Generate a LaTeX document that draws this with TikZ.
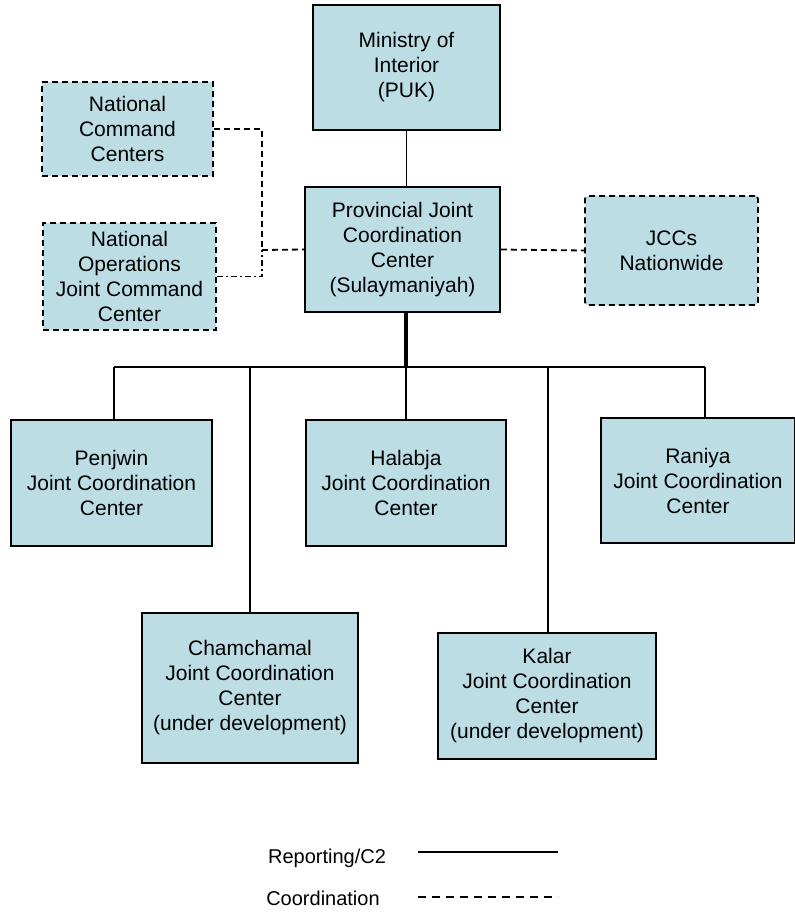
\documentclass[tikz,border=0pt]{standalone}
\usepackage{fontspec}
\setmainfont{Liberation Sans}
\begin{document}
\begin{tikzpicture}[x=1pt,y=-1pt,
  box/.style={draw=black, line width=1.8pt, fill=boxfill, align=center, inner sep=0pt,
    font=\fontsize{21}{25}\selectfont},
  dbox/.style={box, dash pattern=on 6pt off 4pt},
  rep/.style={line width=1.8pt},
  coord/.style={line width=1.8pt, dash pattern=on 6pt off 4pt},
  lbl/.style={font=\fontsize{20}{25}\selectfont, inner sep=0pt}]
\definecolor{boxfill}{RGB}{187,221,227}
\useasboundingbox (0,0) rectangle (795,913);
\node[box, minimum width=187pt, minimum height=125pt] (moi) at (406.5,67.5) {Ministry of\\Interior\\(PUK)};
\node[dbox, minimum width=171pt, minimum height=94pt] (ncc) at (127.5,129) {National\\Command\\Centers};
\node[dbox, minimum width=173pt, minimum height=107pt] (nojcc) at (129.5,276.5) {National\\Operations\\Joint Command\\Center};
\node[box, minimum width=195pt, minimum height=125pt] (pjcc) at (402.5,249.5) {Provincial Joint\\Coordination\\Center\\(Sulaymaniyah)};
\node[dbox, rounded corners=3pt, minimum width=173pt, minimum height=109pt] (jccs) at (671.5,250.5) {JCCs\\Nationwide};
\node[box, minimum width=201pt, minimum height=126pt] (pen) at (111.5,483) {Penjwin\\Joint Coordination\\Center};
\node[box, minimum width=200pt, minimum height=126pt] (hal) at (406,483) {Halabja\\Joint Coordination\\Center};
\node[box, minimum width=194pt, minimum height=125pt] (ran) at (698,480.5) {Raniya\\Joint Coordination\\Center};
\node[box, minimum width=216pt, minimum height=150pt] (cham) at (250,688) {Chamchamal\\Joint Coordination\\Center\\(under development)};
\node[box, minimum width=218pt, minimum height=126pt] (kal) at (547,696) {Kalar\\Joint Coordination\\Center\\(under development)};
\coordinate (top) at (406,312);
\coordinate (bus) at (406,367);
\coordinate (bl) at (114,367);
\coordinate (br) at (705,367);
\coordinate (b2) at (250,367);
\coordinate (b4) at (548,367);
\coordinate (j1) at (262,250);
% reporting lines
\draw[rep] (moi.south) -- (pjcc.north -| moi.south);
\draw[line width=3.2pt] (top) -- (bus);
\draw[rep] (bl) -- (br);
\draw[rep] (bl) -- (bl |- pen.north);
\draw[rep] (b2) -- (b2 |- cham.north);
\draw[rep] (bus) -- (bus |- hal.north);
\draw[rep] (b4) -- (b4 |- kal.north);
\draw[rep] (br) -- (br |- ran.north);
% coordination lines
\draw[coord] (ncc.east) -| (j1);
\draw[line width=1.8pt, dash pattern=on 6pt off 3pt on 2pt off 3pt] (nojcc.east) -| (j1);
\draw[coord] (j1) -- (pjcc.west);
\draw[coord] (pjcc.east) -- (jccs.west);
% legend
\node[lbl] (l1) at (327,858) {Reporting/C2};
\node[lbl] (l2) at (323,898) {Coordination};
\coordinate (a1) at (418,852);
\coordinate (a2) at (558,852);
\coordinate (c1) at (418,897);
\coordinate (c2) at (558,897);
\draw[rep] (a1) -- (a2);
\draw[line width=1.8pt, dash pattern=on 8pt off 6pt] (c1) -- (c2);
\end{tikzpicture}
\end{document}
